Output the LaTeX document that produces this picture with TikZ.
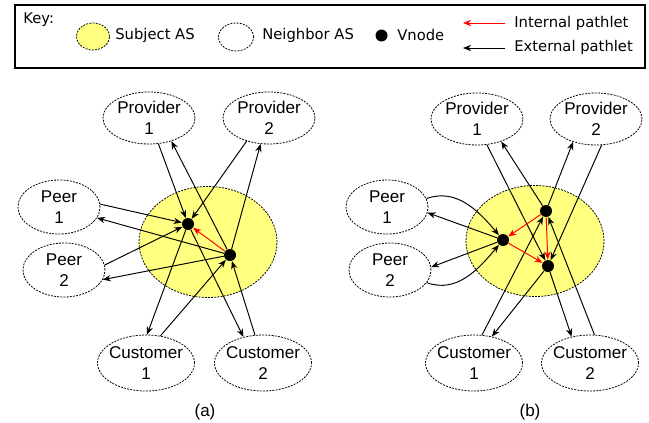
\documentclass[tikz,border=0pt]{standalone}
\usepackage{fontspec}
\setmainfont{Liberation Sans}
\newfontfamily\keyfont{DejaVu Sans}
\usetikzlibrary{shapes.geometric,arrows.meta}
\definecolor{subjyellow}{RGB}{255,255,128}

\begin{document}
\begin{tikzpicture}[scale=0.2]
				\tikzstyle{every node}+=[inner sep=0pt]
				\tikzstyle{nbr}=[draw, ellipse, dash pattern=on 1.1pt off 0.7pt, line width=0.45pt, align=center, font=\fontsize{9.7}{12.3}\selectfont]
				\tikzstyle{provider}=[nbr, minimum width=1.84cm, minimum height=1.04cm]
				\tikzstyle{peer}=[nbr, minimum width=1.64cm, minimum height=1.08cm]
				\tikzstyle{customer}=[nbr, inner xsep=-1.5pt, minimum width=1.94cm, minimum height=1.12cm]
				\tikzstyle{subj}=[nbr, fill=subjyellow, minimum width=2.76cm, minimum height=2.22cm]
				\tikzstyle{vnode}=[circle, fill=black, minimum size=0.24cm]
				\tikzstyle{keytext}=[anchor=west, font=\keyfont\fontsize{8.4}{10}\selectfont]
				\tikzstyle{ext}=[black, line width=0.55pt, -{Stealth[length=4.6pt,width=3.6pt]}]
				\tikzstyle{int}=[ext, red]
				\useasboundingbox (0,0) rectangle (64.9,-42.2);
				\draw [black, line width=0.9pt] (1.5,-0.5) rectangle (64.5,-6.8);
				\node [keytext] (keylab) at (2.3,-1.95) {Key:};
				\node [nbr, fill=subjyellow, minimum width=0.66cm, minimum height=0.54cm] (keysubj) at (9.3,-3.65) {};
				\node [keytext] (keysubjlab) at (11.5,-3.5) {Subject AS};
				\node [nbr, minimum width=0.7cm, minimum height=0.56cm] (keynbr) at (23.6,-3.7) {};
				\node [keytext] (keynbrlab) at (26.2,-3.5) {Neighbor AS};
				\node [vnode] (keyvnode) at (38.15,-3.55) {};
				\node [keytext] (keyvnodelab) at (39.7,-3.5) {Vnode};
				\node [keytext] (keyintlab) at (51.4,-2.3) {Internal pathlet};
				\node [keytext] (keyextlab) at (51.4,-4.75) {External pathlet};
				\coordinate (keyintfrom) at (50.5,-2.3);
				\coordinate (keyintto) at (46.3,-2.3);
				\coordinate (keyextfrom) at (50.5,-4.8);
				\coordinate (keyextto) at (46.3,-4.8);
				\draw [int] (keyintfrom) -- (keyintto);
				\draw [ext] (keyextfrom) -- (keyextto);
				\node [subj] (subja) at (20.8,-24.2) {};
				\node [provider] (prov1a) at (14.9,-11.8) {Provider\\1};
				\node [provider] (prov2a) at (26.9,-11.8) {Provider\\2};
				\node [peer] (peer1a) at (5.9,-20.7) {Peer\\1};
				\node [peer] (peer2a) at (6.4,-27.0) {Peer\\2};
				\node [customer] (cust1a) at (14.6,-36.3) {Customer\\1};
				\node [customer] (cust2a) at (26.3,-36.3) {Customer\\2};
				\node [vnode] (va) at (18.8,-22.4) {};
				\node [vnode] (vb) at (23.0,-25.5) {};
				\draw [ext] (prov1a.-70) -- (va);
				\draw [ext] (vb) -- (prov1a.-46);
				\draw [ext] (prov2a.-134) -- (va);
				\draw [ext] (vb) -- (prov2a.-108);
				\draw [ext] (peer1a.4) -- (va);
				\draw [ext] (vb) -- (peer1a.-16);
				\draw [ext] (peer2a.7) -- (va);
				\draw [ext] (vb) -- (peer2a.-14);
				\draw [ext] (va) -- (cust1a.88);
				\draw [ext] (cust1a.62) -- (vb);
				\draw [ext] (va) -- (cust2a.127);
				\draw [ext] (cust2a.106) -- (vb);
				\draw [int] (vb) -- (va);
				\node [font=\fontsize{9.7}{12.3}\selectfont] (capa) at (20.5,-41.2) {(a)};
				\node [subj] (subjb) at (53.5,-24.1) {};
				\node [provider] (prov1b) at (47.7,-11.9) {Provider\\1};
				\node [provider] (prov2b) at (59.6,-11.9) {Provider\\2};
				\node [peer] (peer1b) at (38.7,-20.7) {Peer\\1};
				\node [peer] (peer2b) at (39.0,-27.0) {Peer\\2};
				\node [customer] (cust1b) at (47.4,-36.3) {Customer\\1};
				\node [customer] (cust2b) at (59.0,-36.3) {Customer\\2};
				\node [vnode] (vt) at (54.6,-21.1) {};
				\node [vnode] (vl) at (50.3,-24.0) {};
				\node [vnode] (vm) at (54.8,-26.6) {};
				\draw [ext] (prov1b.-69) -- (vm);
				\draw [ext] (vt) -- (prov1b.-43);
				\draw [ext] (vt) -- (prov2b.-135);
				\draw [ext] (prov2b.-78) -- (vm);
				\draw [ext] (peer1b.12) to [out=20,in=130] (vl);
				\draw [ext] (vl) -- (peer1b.-8);
				\draw [ext] (vl) -- (peer2b.4);
				\draw [ext] (peer2b.-19) to [out=-20,in=-130] (vl);
				\draw [ext] (cust1b.74) -- (vt);
				\draw [ext] (vm) -- (cust1b.56);
				\draw [ext] (vm) -- (cust2b.125);
				\draw [ext] (cust2b.81) -- (vt);
				\draw [int] (vt) -- (vl);
				\draw [int] (vl) -- (vm);
				\draw [int] (vt) -- (vm);
				\node [font=\fontsize{9.7}{12.3}\selectfont] (capb) at (53.0,-41.2) {(b)};
\end{tikzpicture}
\end{document}
